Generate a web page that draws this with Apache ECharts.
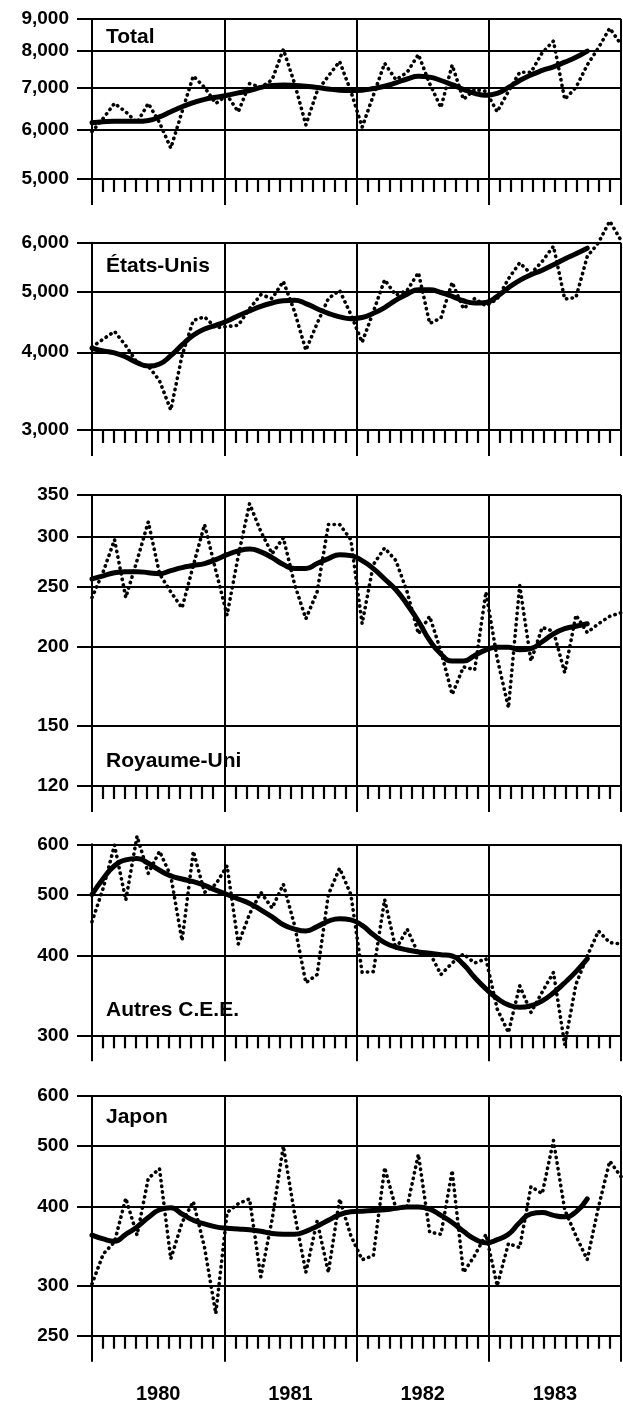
<!DOCTYPE html>
<html>
<head>
<meta charset="utf-8">
<script src="https://cdn.jsdelivr.net/npm/echarts@6/dist/echarts.min.js"></script>
<style>
html,body{margin:0;padding:0;background:#fff;}
#c{width:623px;height:1407px;}
</style>
</head>
<body>
<div id="c"></div>
<script>
// ---------- data ----------
const years = ['1980', '1981', '1982', '1983'];
const months = [
  '1980-01','1980-02','1980-03','1980-04','1980-05','1980-06','1980-07','1980-08','1980-09','1980-10','1980-11','1980-12',
  '1981-01','1981-02','1981-03','1981-04','1981-05','1981-06','1981-07','1981-08','1981-09','1981-10','1981-11','1981-12',
  '1982-01','1982-02','1982-03','1982-04','1982-05','1982-06','1982-07','1982-08','1982-09','1982-10','1982-11','1982-12',
  '1983-01','1983-02','1983-03','1983-04','1983-05','1983-06','1983-07','1983-08','1983-09','1983-10','1983-11','1983-12'
];

const titles = ['Total', 'États-Unis', 'Royaume-Uni', 'Autres C.E.E.', 'Japon'];

const totalTicks = [5000, 6000, 7000, 8000, 9000];
const usTicks = [3000, 4000, 5000, 6000];
const ukTicks = [120, 150, 200, 250, 300, 350];
const eecTicks = [300, 400, 500, 600];
const japanTicks = [250, 300, 400, 500, 600];

const totalRaw = [5950,6250,6600,6400,6150,6600,6150,5600,6400,7300,7000,6600,6800,6400,7100,7000,7200,8050,7100,6100,6900,7300,7700,6900,6050,6800,7650,7200,7400,7900,7100,6500,7600,6700,6950,6900,6400,6900,7400,7400,7950,8300,6700,7000,7600,8100,8700,8200];
const totalTrend = [6150,6170,6180,6180,6180,6200,6280,6400,6520,6620,6700,6750,6800,6860,6920,7000,7050,7060,7050,7030,7000,6960,6930,6920,6930,6970,7030,7120,7220,7290,7270,7180,7070,6950,6850,6800,6850,7000,7180,7330,7450,7550,7680,7820,8000];

const usRaw = [4080,4200,4320,4100,3850,3800,3600,3230,3950,4500,4560,4380,4400,4420,4700,4950,4880,5200,4650,4030,4450,4880,5030,4600,4150,4650,5230,4940,5030,5370,4450,4540,5180,4700,4880,4750,4870,5250,5570,5350,5600,5920,4870,4900,5700,6000,6500,6050];
const usTrend = [4060,4020,3990,3930,3850,3800,3830,3950,4110,4260,4360,4420,4490,4580,4660,4740,4800,4840,4850,4790,4700,4620,4560,4530,4550,4620,4720,4850,4960,5040,5040,4990,4920,4840,4800,4810,4920,5080,5220,5330,5420,5530,5650,5760,5880];

const ukRaw = [240,264,297,240,275,317,262,245,231,270,314,265,225,280,339,306,282,299,252,222,245,314,314,297,218,271,288,275,245,210,224,197,168,186,184,245,192,160,251,190,215,212,182,225,211,218,224,227];
const ukTrend = [257,260,263,264,264,263,262,265,268,270,272,276,281,285,287,284,278,271,267,267,272,277,281,280,275,267,257,247,234,220,205,195,190,190,194,198,200,200,198,199,204,210,214,216,218];

const eecRaw = [453,512,598,490,618,540,585,535,423,585,504,519,555,418,466,504,476,519,447,363,374,500,550,500,377,378,491,410,441,403,405,374,390,403,390,396,330,303,359,326,351,377,290,361,400,438,420,418];
const eecTrend = [500,530,555,567,570,560,546,535,529,524,517,508,500,492,484,473,461,448,441,438,445,454,458,456,447,432,420,413,409,406,404,402,400,388,370,355,343,335,332,334,340,350,363,378,396];

const japanRaw = [302,337,352,413,361,444,460,331,378,408,345,271,392,405,412,310,382,500,390,315,380,315,412,360,330,335,462,398,400,485,365,362,457,315,335,362,300,350,345,431,420,510,396,360,330,400,473,447];
const japanTrend = [361,356,353,362,372,385,396,399,390,381,376,372,370,369,368,366,363,362,362,366,373,381,389,393,394,395,396,398,400,400,397,388,378,366,356,351,355,362,378,390,392,388,386,393,412];

// ---------- layout (positions/styles only) ----------
const FONT = "'Liberation Sans', Arial, Helvetica, sans-serif";
const layout = [
  {top: 19,    height: 160,   titleTop: 26.5},
  {top: 242.7, height: 187.3, titleTop: 256},
  {top: 495,   height: 291,   titleTop: 751},
  {top: 844.3, height: 191,   titleTop: 1000},
  {top: 1096,  height: 239.7, titleTop: 1106.5}
];

const panels = [
  {raw: totalRaw, trend: totalTrend, ticks: totalTicks},
  {raw: usRaw,    trend: usTrend,    ticks: usTicks},
  {raw: ukRaw,    trend: ukTrend,    ticks: ukTicks},
  {raw: eecRaw,   trend: eecTrend,   ticks: eecTicks},
  {raw: japanRaw, trend: japanTrend, ticks: japanTicks}
];

const fmt = v => String(Math.round(v)).replace(/\B(?=(\d{3})+(?!\d))/g, ',');
const black = '#000';

const grid = [], xAxis = [], yAxis = [], series = [], title = [];

panels.forEach((p, i) => {
  const L = layout[i];
  grid.push({left: 92, width: 529, top: L.top, height: L.height, containLabel: false});
  title.push({
    text: titles[i], left: 106, top: L.titleTop, padding: 0,
    textStyle: {fontSize: 21, fontWeight: 'bold', color: black, fontFamily: FONT, lineHeight: 21}
  });
  // data axis (hidden)
  xAxis.push({
    gridIndex: i, type: 'category', data: months, boundaryGap: false,
    position: 'bottom', show: false
  });
  // visual year/month axis
  xAxis.push({
    gridIndex: i, type: 'value', min: 0, max: 4, interval: 1, position: 'bottom',
    axisLine: {show: true, lineStyle: {color: black, width: 2}},
    axisTick: {show: true, length: 26, lineStyle: {color: black, width: 2}},
    minorTick: {show: true, splitNumber: 12, length: 13, lineStyle: {color: black, width: 2.2}},
    axisLabel: {show: false},
    splitLine: {show: true, lineStyle: {color: black, width: 2}}
  });
  const ticks = p.ticks;
  yAxis.push({
    gridIndex: i, type: 'log', logBase: 10,
    min: ticks[0], max: ticks[ticks.length - 1],
    axisLine: {show: true, lineStyle: {color: black, width: 2}},
    axisTick: {show: true, length: 15, customValues: ticks, lineStyle: {color: black, width: 2}},
    minorTick: {show: false},
    axisLabel: {
      customValues: ticks, margin: 23, formatter: fmt, showMinLabel: true, showMaxLabel: true,
      fontSize: 19, fontWeight: 'bold', color: black, fontFamily: FONT
    },
    splitLine: {show: true, lineStyle: {color: black, width: 2}}
  });
  const trendData = months.map((m, k) => (k < p.trend.length ? p.trend[k] : null));
  series.push({
    type: 'line', xAxisIndex: 2 * i, yAxisIndex: i, data: p.raw,
    symbol: 'none', showSymbol: false, clip: false, z: 3,
    lineStyle: {color: black, width: 3.6, type: [0.3, 5.4], cap: 'round', join: 'round'}
  });
  series.push({
    type: 'line', xAxisIndex: 2 * i, yAxisIndex: i, data: trendData,
    symbol: 'none', showSymbol: false, smooth: true, clip: false, z: 4, connectNulls: false,
    lineStyle: {color: black, width: 5, cap: 'round', join: 'round'}
  });
});

// year labels under the last panel
xAxis.push({
  gridIndex: 4, type: 'category', data: years, boundaryGap: true, position: 'bottom',
  axisLine: {show: false}, axisTick: {show: false}, splitLine: {show: false},
  axisLabel: {margin: 49, fontSize: 20, fontWeight: 'bold', color: black, fontFamily: FONT}
});

const chart = echarts.init(document.getElementById('c'), null, {renderer: 'canvas'});
chart.setOption({
  backgroundColor: '#fff',
  animation: false,
  title, grid, xAxis, yAxis, series
});
</script>
</body>
</html>
